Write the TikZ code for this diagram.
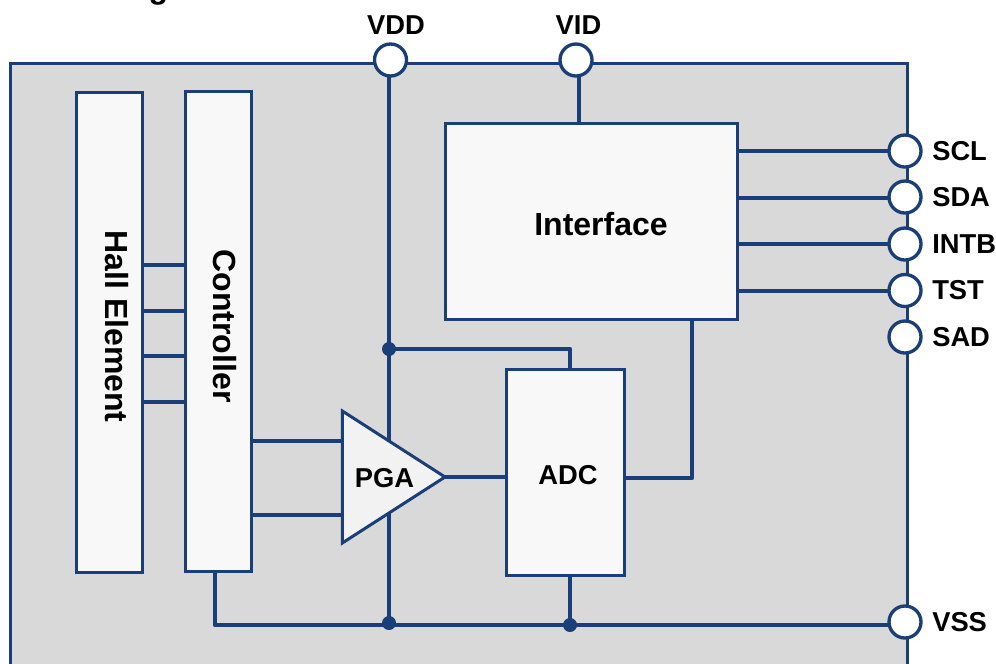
\documentclass[tikz,border=0pt]{standalone}
\usepackage{fontspec}
\setmainfont{Liberation Sans}
\usepackage{xcolor}
\usetikzlibrary{backgrounds,shapes.geometric}
\definecolor{wire}{HTML}{1A3F78}
\definecolor{chip}{HTML}{D9D9D9}
\definecolor{blockfill}{HTML}{F8F8F8}
\definecolor{ampfill}{HTML}{F2F2F2}

\begin{document}
\begin{tikzpicture}[x=0.75pt,y=-0.75pt,
    block/.style={rectangle,draw=wire,fill=blockfill,line width=2.25pt,inner sep=0pt},
    pin/.style={circle,draw=wire,fill=white,line width=2.5pt,inner sep=0pt,minimum size=24pt},
    dot/.style={circle,fill=wire,inner sep=0pt,minimum size=10.5pt},
    net/.style={wire,line width=3.5pt},
    lbl/.style={font=\bfseries\fontsize{20.5}{24}\selectfont,text=black,inner sep=0pt},
    biglbl/.style={lbl,font=\bfseries\fontsize{24}{28}\selectfont}]
  \useasboundingbox (0,0) rectangle (996,664);
  \node[block,minimum width=50pt,minimum height=360pt] (hall) at (109.5,332) {};
  \node[block,minimum width=50pt,minimum height=360pt] (ctrl) at (218.5,331) {};
  \node[block,minimum width=219pt,minimum height=147pt] (intf) at (591,221) {};
  \node[block,minimum width=89pt,minimum height=154.5pt] (adc) at (565.5,472) {};
  \node[isosceles triangle,isosceles triangle stretches,draw=wire,fill=ampfill,line width=2.25pt,
        inner sep=0pt,outer sep=0pt,minimum width=99pt,minimum height=77pt,anchor=apex] (pga) at (445,477) {};
  \node[biglbl,rotate=-90] (hallt) at (117,326.5) {Hall Element};
  \node[biglbl,rotate=-90] (ctrlt) at (225,326) {Controller};
  \node[biglbl] (intft) at (601,224) {Interface};
  \node[lbl] (adct) at (568,475) {ADC};
  \node[lbl] (pgat) at (384.5,478) {PGA};
  \node[biglbl,anchor=base] (title) at (158.5,-2) {g};
  \foreach \nm/\x/\xt in {VDD/390.5/396, VID/576/578.5} {
    \node[pin] (p\nm) at (\x,60) {};
    \node[lbl] (t\nm) at (\xt,25) {\nm};
  }
  \foreach \nm/\y in {SCL/151, SDA/197, INTB/244, TST/290.5, SAD/337, VSS/622} {
    \node[pin] (p\nm) at (905,\y) {};
    \node[lbl,anchor=west] (t\nm) at (932,\y) {\nm};
  }
  \coordinate (vddtee) at (389,349);
  \coordinate (vddrail) at (389,625);
  \coordinate (adctee) at (570,625);
  \node[dot] (dtop) at (vddtee) {};
  \node[dot] (dgnd) at (389,623) {};
  \node[dot] (dadc) at (adctee) {};
  \begin{scope}[on background layer]
    \fill[chip] (10,63) rectangle (907,664);
    \draw[wire,line width=2.25pt] (10,664) -- (10,63) -- (907,63) -- (907,664);
    \draw[net] (389,60) -- (vddrail);
    \draw[net] (579,60) -- (579,123);
    \foreach \nm/\y in {SCL/151, SDA/198, INTB/244, TST/291}
      \draw[net] (737,\y) -- (p\nm.center |- 0,\y);
    \foreach \y in {265,311,356,402}
      \draw[net] (143,\y) -- (185,\y);
    \foreach \y in {441,515}
      \draw[net] (252,\y) -- (342,\y);
    \draw[net] (pga.apex) -- (pga.apex -| adc.west);
    \draw[net,line join=round] (625,478) -- (692,478) -- (692,319);
    \draw[net,line join=round] (vddtee) -- (570,349) -- (570,369);
    \draw[net] (570,575) -- (adctee);
    \draw[net,line join=round] (215,571) -- (215,625) -- (pVSS.center |- 0,625);
  \end{scope}
\end{tikzpicture}
\end{document}
